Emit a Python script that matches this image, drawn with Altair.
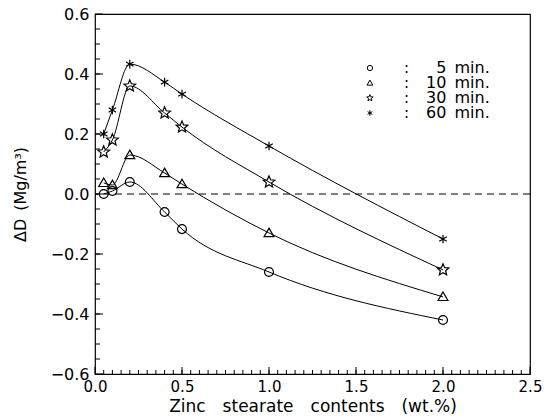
import math
import altair as alt
import pandas as pd

# ---- data ----
x_vals = [0.05, 0.1, 0.2, 0.4, 0.5, 1.0, 2.0]
d_5min = [0.00, 0.01, 0.04, -0.06, -0.117, -0.26, -0.42]
d_10min = [0.037, 0.03, 0.13, 0.07, 0.033, -0.13, -0.343]
d_30min = [0.14, 0.18, 0.36, 0.27, 0.223, 0.04, -0.253]
d_60min = [0.20, 0.28, 0.433, 0.373, 0.333, 0.16, -0.15]

series_names = ["5 min.", "10 min.", "30 min.", "60 min."]
series_nums = ["5", "10", "30", "60"]
series_vals = [d_5min, d_10min, d_30min, d_60min]
legend_y = [0.42, 0.37, 0.32, 0.27]

x_major = [0.0, 0.5, 1.0, 1.5, 2.0, 2.5]
y_major = [-0.6, -0.4, -0.2, 0.0, 0.2, 0.4, 0.6]
x_minor = [round(i * 0.05, 2) for i in range(1, 50)]
y_minor = [round(-0.6 + i * 0.05, 2) for i in range(1, 24)]

# marker symbol paths (unit-size)
def star_path():
    pts = []
    for k in range(10):
        r = 1.0 if k % 2 == 0 else 0.45
        a = -math.pi / 2 + k * math.pi / 5
        pts.append(f"{r * math.cos(a):.3f},{r * math.sin(a):.3f}")
    return "M" + "L".join(pts) + "Z"

ASTERISK = "M0,-1L0,1M-0.87,-0.5L0.87,0.5M-0.87,0.5L0.87,-0.5"
TRIANGLE = "M0,-1.1L1.1,0.8L-1.1,0.8Z"
shapes = ["circle", TRIANGLE, star_path(), ASTERISK]
marker_sizes = [80, 80, 150, 75]
legend_sizes = [28, 28, 45, 30]

FONT = "DejaVu Sans"
W, H = 435, 360
SP = "\u2003"

rows = []
for name, vals in zip(series_names, series_vals):
    for xv, yv in zip(x_vals, vals):
        rows.append({"series": name, "x": xv, "y": yv})
df = pd.DataFrame(rows)

xs = alt.Scale(domain=[0, 2.5], nice=False, zero=False)
ys = alt.Scale(domain=[-0.6, 0.6], nice=False, zero=False)

X = alt.X("x:Q", scale=xs, axis=alt.Axis(
    values=x_major, format=".1f",
    title=f"Zinc{SP}stearate{SP}contents{SP}(wt.%)"))
Y = alt.Y("y:Q", scale=ys, axis=alt.Axis(values=y_major, format=".1f",
                                         title="ΔD\u2002(Mg/m³)"))

lines = alt.Chart(df).mark_line(color="black", strokeWidth=1, interpolate="monotone").encode(
    x=X, y=Y, detail="series:N")

point_layers = []
for name, shp, sz in zip(series_names, shapes, marker_sizes):
    point_layers.append(
        alt.Chart(df).transform_filter(alt.datum.series == name).mark_point(
            shape=shp, size=sz, filled=False, color="black", strokeWidth=1.2, opacity=1
        ).encode(x=X, y=Y)
    )

zero_line = alt.Chart(pd.DataFrame({"y": [0.0]})).mark_rule(
    color="black", strokeWidth=1, strokeDash=[7, 5]).encode(y=Y)

# inward ticks
tx_min = alt.Chart(pd.DataFrame({"x": x_minor})).mark_rule(color="black", strokeWidth=1).encode(
    x=X, y=alt.value(H), y2=alt.value(H - 4))
tx_maj = alt.Chart(pd.DataFrame({"x": x_major})).mark_rule(color="black", strokeWidth=1).encode(
    x=X, y=alt.value(H), y2=alt.value(H - 7))
ty_min = alt.Chart(pd.DataFrame({"y": y_minor})).mark_rule(color="black", strokeWidth=1).encode(
    y=Y, x=alt.value(0), x2=alt.value(5))
ty_maj = alt.Chart(pd.DataFrame({"y": y_major})).mark_rule(color="black", strokeWidth=1).encode(
    y=Y, x=alt.value(0), x2=alt.value(8))

# legend drawn inside the plot
leg_df = pd.DataFrame({"num": series_nums, "y": legend_y, "colon": [":"] * 4,
                       "unit": ["min."] * 4, "series": series_names,
                       "xs": [1.58] * 4, "xc": [1.79] * 4, "xn": [2.02] * 4})
leg_sym = []
for name, shp, sz in zip(series_names, shapes, legend_sizes):
    leg_sym.append(
        alt.Chart(leg_df).transform_filter(alt.datum.series == name).mark_point(
            shape=shp, size=sz, filled=False, color="black", strokeWidth=1, opacity=1
        ).encode(x=alt.X("xs:Q", scale=xs), y=alt.Y("y:Q", scale=ys))
    )
leg_colon = alt.Chart(leg_df).mark_text(font=FONT, fontSize=15, color="black").encode(
    x=alt.X("xc:Q", scale=xs), y=alt.Y("y:Q", scale=ys), text="colon:N")
leg_num = alt.Chart(leg_df).mark_text(font=FONT, fontSize=16, color="black", align="right").encode(
    x=alt.X("xn:Q", scale=xs), y=alt.Y("y:Q", scale=ys), text="num:N")
leg_unit = alt.Chart(leg_df).mark_text(font=FONT, fontSize=16, color="black", align="left", dx=8).encode(
    x=alt.X("xn:Q", scale=xs), y=alt.Y("y:Q", scale=ys), text="unit:N")

chart = alt.layer(
    zero_line, lines, *point_layers, tx_min, tx_maj, ty_min, ty_maj,
    *leg_sym, leg_colon, leg_num, leg_unit
).properties(
    width=W, height=H,
    padding={"left": 95, "top": 14, "right": 14, "bottom": 46},
    autosize=alt.AutoSizeParams(type="none"),
    background="white",
).configure_view(stroke="black", strokeWidth=1.2
).configure_axis(
    ticks=False, grid=False, domain=False, labelFont=FONT,
    labelColor="black", titleFont=FONT, titleFontWeight="normal", titleColor="black",
    labelFlush=False
).configure_axisX(labelPadding=5, titlePadding=4, titleFontSize=17, labelFontSize=15
).configure_axisY(labelPadding=6, titlePadding=22, titleFontSize=16, labelFontSize=16)

chart.save("out.html", embed_options={"renderer": "svg", "actions": False})
